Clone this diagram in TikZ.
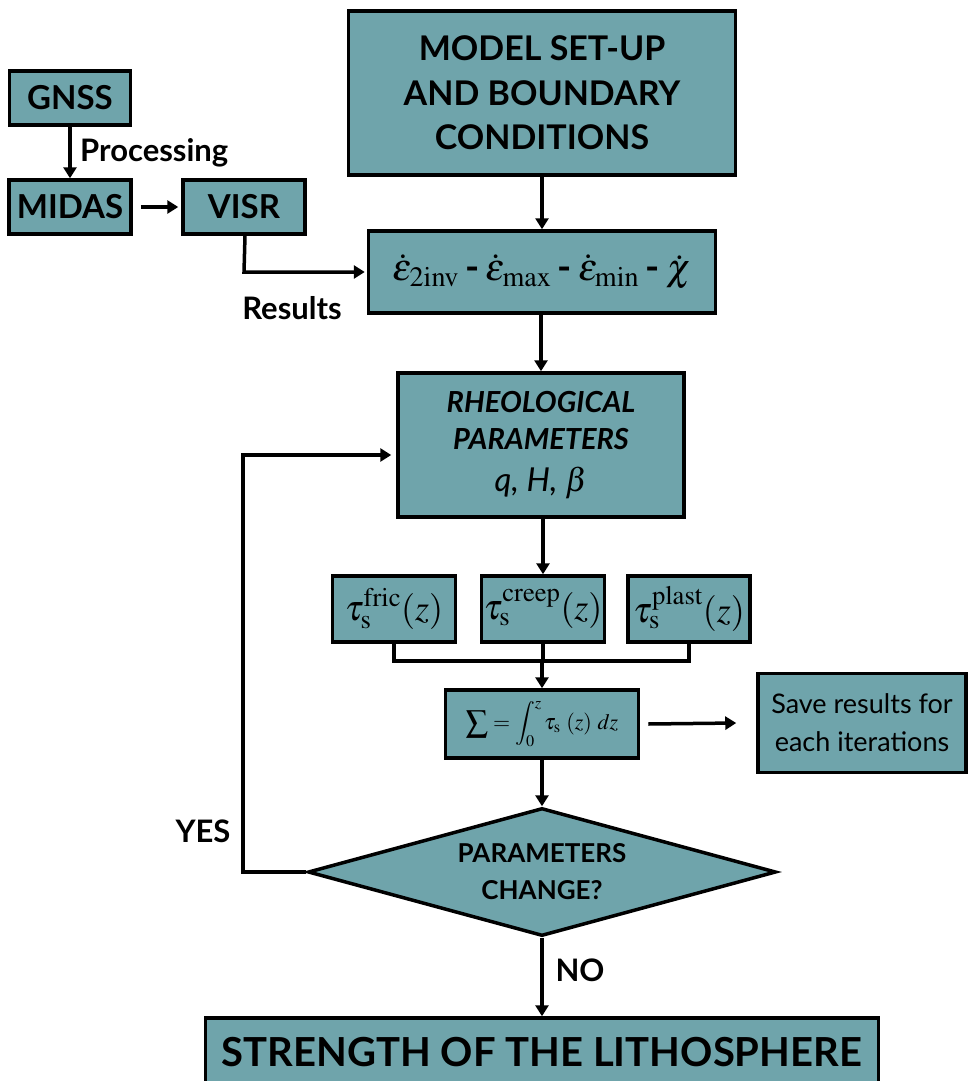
\documentclass[tikz,border=0pt]{standalone}
\usepackage{mathptmx}
\usepackage{fontspec}
\setmainfont{Lato}
\usetikzlibrary{shapes.geometric,arrows.meta}
\definecolor{boxfill}{RGB}{111,164,171}
\tikzset{
  box/.style={draw=black,line width=3.5pt,fill=boxfill,inner sep=0pt,align=center},
  conn/.style={line width=3.5pt},
  arr/.style={line width=3.5pt,-{Triangle[length=11pt,width=13pt]}},
  lbl/.style={font=\bfseries\fontsize{31}{34}\selectfont,inner sep=0pt},
  small/.style={font=\bfseries\fontsize{33}{36}\selectfont}
}
\begin{document}
\begin{tikzpicture}[x=1pt,y=-1pt]
\useasboundingbox (0,0) rectangle (969,1081);
% left chain
\node[box,small,minimum width=121pt,minimum height=54pt] (gnss) at (70,98) {GNSS};
\node[box,small,minimum width=122pt,minimum height=54pt] (midas) at (70,207) {MIDAS};
\node[box,small,minimum width=122pt,minimum height=54pt] (visr) at (244,207) {VISR};
\draw[arr] (gnss.south) -- (midas.north);
\node[lbl,anchor=west] (proc) at (80,153) {Processing};
\draw[arr] ([xshift=8pt]midas.east) -- ([xshift=-3pt]visr.west);
% model set-up
\node[box,minimum width=387pt,minimum height=164pt,font=\bfseries\fontsize{34}{44.5}\selectfont] (model) at (542,93) {MODEL SET-UP\\AND BOUNDARY\\CONDITIONS};
% strain rates
\node[box,minimum width=347pt,minimum height=82pt,font=\fontsize{38}{40}\selectfont] (strain) at (542,272)
  {$\dot{\varepsilon}_{\mathrm{2inv}}$\,\textbf{-}\,$\dot{\varepsilon}_{\max}$\,\textbf{-}\,$\dot{\varepsilon}_{\min}$\,\textbf{-}\,$\dot{\chi}$};
\draw[arr] (model.south -| strain.north) -- (strain.north);
\coordinate (vcorner) at (visr.south |- strain.west);
\draw[arr] ([xshift=1pt]visr.south) -- (vcorner) -- ([xshift=-2pt]strain.west);
\node[lbl] (results) at (292,308) {Results};
% rheological
\node[box,minimum width=286pt,minimum height=144pt,font=\itshape\fontsize{29}{37}\selectfont] (rheo) at (541,445)
  {\textbf{RHEOLOGICAL}\\\textbf{PARAMETERS}\\[5pt]\fontsize{33}{34}\selectfont q, H, $\beta$};
\draw[arr] (strain.south -| rheo.north) -- (rheo.north);
% tau boxes
\node[box,minimum width=123pt,minimum height=66pt,font=\fontsize{36}{38}\selectfont] (fric) at (394,609) {$\tau_{\mathrm{s}}^{\mathrm{fric}}(z)$};
\node[box,minimum width=123pt,minimum height=66pt,font=\fontsize{36}{38}\selectfont] (creep) at (543,609) {$\tau_{\mathrm{s}}^{\mathrm{creep}}(z)$};
\node[box,minimum width=122pt,minimum height=66pt,font=\fontsize{36}{38}\selectfont] (plast) at (689,609) {$\tau_{\mathrm{s}}^{\mathrm{plast}}(z)$};
\draw[arr] (rheo.south -| creep.north) -- (creep.north);
% sum
\node[box,minimum width=193pt,minimum height=68pt,font=\fontsize{22}{26}\selectfont] (sum) at (542,724) {$\displaystyle\sum = \int_0^z \tau_{\mathrm{s}}\ (z)\ dz$};
\coordinate (junc) at (542,661);
\draw[conn] (fric.south) -- (fric.south |- junc) -- (plast.south |- junc) -- (plast.south);
\draw[conn] (creep.south) -- (creep.south |- junc);
\draw[arr] (junc) -- (sum.north);
% save
\node[box,minimum width=208pt,minimum height=99pt,font=\fontsize{27}{38}\selectfont] (save) at (862,723) {Save results for\\each iterations};
\draw[arr] ([xshift=8pt]sum.east) -- ([xshift=-20pt]save.west);
% diamond
\node[draw=black,line width=3.5pt,fill=boxfill,shape=diamond,aspect=3.64,minimum width=468pt,minimum height=128pt,inner sep=0pt,align=center,font=\bfseries\fontsize{26}{37}\selectfont] (dec) at (542,872) {PARAMETERS\\CHANGE?};
\draw[arr] (sum.south) -- (dec.north);
% feedback
\coordinate (fb1) at (243,876);
\coordinate (fb2) at (243,455);
\draw[arr] (dec.west) -- (fb1 |- dec.west) -- (fb2) -- ([xshift=-5pt]rheo.west |- fb2);
\node[lbl] (yes) at (203,831) {YES};
% bottom
\node[box,minimum width=673pt,minimum height=80pt] (strength) at (542,1058) {};
\node[font=\bfseries\fontsize{40}{44}\selectfont,inner sep=0pt] (stext) at (542,1052) {STRENGTH OF THE LITHOSPHERE};
\draw[arr] (dec.south) -- (strength.north);
\node[lbl] (no) at (580,970) {NO};
\end{tikzpicture}
\end{document}
